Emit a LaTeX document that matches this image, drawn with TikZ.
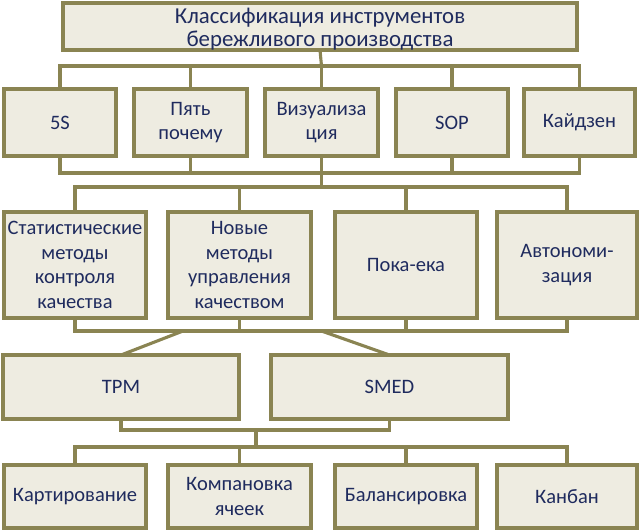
\documentclass[tikz,border=0pt]{standalone}
\usepackage{fontspec}
\setmainfont{Carlito}
\definecolor{boxfill}{HTML}{EEECE1}
\definecolor{boxline}{HTML}{8A8452}
\definecolor{txt}{HTML}{1F2B5E}
\begin{document}
\begin{tikzpicture}[x=1pt,y=-1pt,
  box/.style={draw=boxline,fill=boxfill,line width=3.1pt,inner sep=0pt,outer sep=0pt,
    align=center,text=txt,font=\fontsize{20.5}{24.6}\selectfont},
  conn/.style={draw=boxline,line width=3.1pt}]
\useasboundingbox (0,0) rectangle (640,531);
% title
\node[box,minimum width=514,minimum height=47] (t) at (320,26.5) {};
\node[text=txt,align=center,inner sep=0pt,font=\fontsize{22.8}{23}\selectfont] (tt) at (320,29) {Классификация инструментов\\бережливого производства};
% row 1
\tikzset{r1/.style={box,minimum height=67}}
\node[r1,minimum width=112] (b1) at (60,122.5) {5S};
\node[r1,minimum width=113] (b2) at (190.5,122.5) {Пять\\почему};
\node[r1,minimum width=113] (b3) at (321.5,122.5) {Визуализа\\ция};
\node[r1,minimum width=112] (b4) at (452,122.5) {SOP};
\node[r1,minimum width=111] (b5) at (579.5,122.5) {Кайдзен};
% row 2
\tikzset{r2/.style={box,minimum height=106}}
\node[r2,minimum width=142] (a) at (75,265) {Статистические\\методы\\контроля\\качества};
\node[r2,minimum width=143] (b) at (239.5,265) {Новые\\методы\\управления\\качеством};
\node[r2,minimum width=142] (c) at (406,265) {Пока-ека};
\node[r2,minimum width=140] (d) at (567,265) {Автономи-\\зация};
% row 3
\tikzset{r3/.style={box,minimum height=64}}
\node[r3,minimum width=236] (tpm) at (121,387) {TPM};
\node[r3,minimum width=237] (smed) at (389.5,387) {SMED};
% row 4
\tikzset{r4/.style={box,minimum height=63}}
\node[r4,minimum width=142] (e) at (75,496.5) {Картирование};
\node[r4,minimum width=143] (f) at (239.5,496.5) {Компановка\\ячеек};
\node[r4,minimum width=142] (g) at (406,496.5) {Балансировка};
\node[r4,minimum width=140] (h) at (567,496.5) {Канбан};
% junctions
\coordinate (j1) at (321.5,66);
\coordinate (j2) at (321.5,173);
\coordinate (j3) at (321.5,187);
\coordinate (j4) at (321.5,331);
\coordinate (d1) at (183,331);
\coordinate (j5) at (256,430);
\coordinate (j6) at (256,447);
% connectors
\draw[conn] (t.south) -- (j1);
\foreach \n in {b1,b2,b3,b4,b5} \draw[conn] (\n.north) |- (j1);
\foreach \n in {b1,b2,b3,b4,b5} \draw[conn] (\n.south) |- (j2);
\draw[conn] (j2) -- (j3);
\foreach \n in {a,b,c,d} \draw[conn] (\n.north) |- (j3);
\foreach \n in {a,b,c,d} \draw[conn] (\n.south) |- (j4);
\draw[conn] (d1) -- (tpm.north);
\draw[conn] (j4) -- (smed.north);
\draw[conn] (tpm.south) |- (j5);
\draw[conn] (smed.south) |- (j5);
\draw[conn] (j5) -- (j6);
\foreach \n in {e,f,g,h} \draw[conn] (\n.north) |- (j6);
\end{tikzpicture}
\end{document}
